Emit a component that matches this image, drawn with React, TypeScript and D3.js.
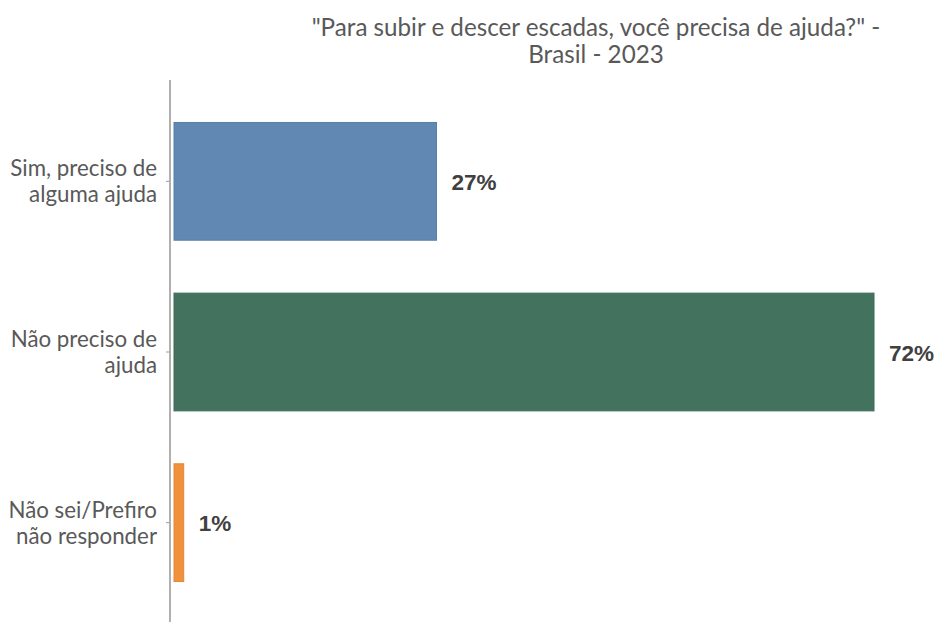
import React from "react";
import * as d3 from "d3";

const categories: string[][] = [
  ["Sim, preciso de", "alguma ajuda"],
  ["Não preciso de", "ajuda"],
  ["Não sei/Prefiro", "não responder"],
];
const values: number[] = [27, 72, 1];
const valueLabels: string[] = ["27%", "72%", "1%"];
const colors: string[] = ["#6088b2", "#43735f", "#f0913c"];
const titleLines: string[] = ['"Para subir e descer escadas, você precisa de ajuda?" -', "Brasil - 2023"];

const W = 941;
const H = 622;
const axisX = 170;

export default function App() {
  const x = d3.scaleLinear().domain([0, 72]).range([axisX + 4, 874]);
  const keys = categories.map((_, i) => String(i));
  const y = d3.scaleBand<string>().domain(keys).range([96, 608]).paddingInner(0.31).paddingOuter(0.155);

  return (
    <svg width={W} height={H} style={{ position: "absolute", left: 0, top: 0 }}>
      <rect x={0} y={0} width={W} height={H} fill="#fff" />
      {titleLines.map((t, i) => (
        <text key={i} x={596} y={36 + i * 26.5} textAnchor="middle" fontFamily="Lato, sans-serif" fontSize={24.2} fill="#595959">
          {t}
        </text>
      ))}
      {values.map((v, i) => {
        const yy = y(keys[i])!;
        const bw = y.bandwidth();
        const cy = yy + bw / 2;
        return (
          <g key={i}>
            <rect x={x(0)} y={yy} width={x(v) - x(0)} height={bw} fill={colors[i]} stroke={d3.color(colors[i])!.darker(0.2).toString()} strokeWidth={1} />
            <text x={x(v) + 15} y={cy + 8.5} fontFamily="'Liberation Sans', Arial, sans-serif" fontWeight="bold" fontSize={22.5} fill="#404040">
              {valueLabels[i]}
            </text>
            <line x1={axisX - 4} x2={axisX} y1={cy} y2={cy} stroke="#999" strokeWidth={1} />
            {categories[i].map((line, j) => (
              <text key={j} x={157} y={cy + 8 + (j - (categories[i].length - 1) / 2) * 26} textAnchor="end" fontFamily="Lato, sans-serif" fontSize={22.3} fill="#595959">
                {line}
              </text>
            ))}
          </g>
        );
      })}
      <line x1={axisX} x2={axisX} y1={80} y2={622} stroke="#b0b0b0" strokeWidth={2} />
    </svg>
  );
}
